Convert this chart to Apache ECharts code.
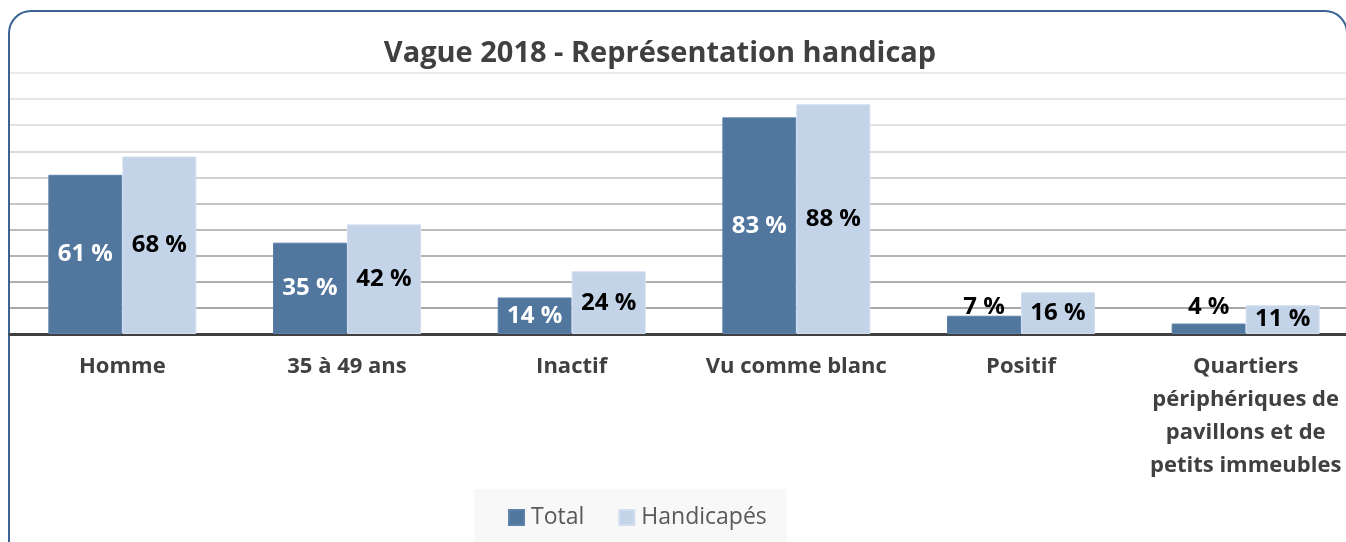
<!DOCTYPE html>
<html>
<head>
<meta charset="utf-8">
<script src="https://cdn.jsdelivr.net/npm/echarts@6/dist/echarts.min.js"></script>
<style>
  html, body { margin: 0; padding: 0; background: #fff; overflow: hidden; }
  #chart { width: 1362px; height: 542px; }
</style>
</head>
<body>
<div id="chart"></div>
<script>
const categories = ['Homme', '35 à 49 ans', 'Inactif', 'Vu comme blanc', 'Positif', 'Quartiers\npériphériques de\npavillons et de\npetits immeubles']
const totalValues = [61, 35, 14, 83, 7, 4]
const handicapesValues = [68, 42, 24, 88, 16, 11]

const TOTAL_COLOR = '#52779f'
const HANDI_COLOR = '#c3d4e9'
const FONT = '"Open Sans", "Noto Sans", sans-serif'

// small bars: Excel pushed the label above the bar
function labelFor(v) {
    if (v >= 10) return undefined
    return { position: 'top', color: '#000', distance: v < 5 ? 4 : -3 }
}

const chart = echarts.init(document.getElementById('chart'), null, { renderer: 'canvas' })
chart.setOption({
    animation: false,
    backgroundColor: '#fff',
    textStyle: { fontFamily: FONT },
    graphic: [
        {
            type: 'rect',
            z: -1,
            shape: { x: 9, y: 11, width: 1338, height: 580, r: 22 },
            style: { fill: 'none', stroke: '#3b6495', lineWidth: 2 }
        }
    ],
    title: {
        text: 'Vague 2018 - Représentation handicap',
        left: 655,
        textAlign: 'center',
        top: 34,
        textStyle: { fontFamily: FONT, fontSize: 29, fontWeight: 'bold', color: '#404040' }
    },
    legend: {
        data: ['Total', 'Handicapés'],
        left: 474,
        top: 489,
        padding: [17, 20, 20, 34],
        backgroundColor: '#f8f8f8',
        itemWidth: 15,
        itemHeight: 15,
        itemGap: 34,
        icon: 'rect',
        textStyle: { fontFamily: FONT, fontSize: 23, color: '#595959', padding: [0, 0, 0, 2] }
    },
    grid: { left: 10, top: 73, width: 1348, height: 261 },
    xAxis: {
        type: 'category',
        data: categories,
        axisLine: { show: true, lineStyle: { color: '#404040', width: 3 } },
        axisTick: { show: false },
        axisLabel: {
            interval: 0,
            margin: 16,
            fontFamily: FONT,
            fontSize: 22,
            fontWeight: 'bold',
            color: '#404040',
            lineHeight: 33
        }
    },
    yAxis: {
        type: 'value',
        min: 0,
        max: 100,
        interval: 10,
        axisLabel: { show: false },
        axisLine: { show: false },
        axisTick: { show: false },
        splitLine: {
            lineStyle: {
                width: 2,
                color: ['#a6a6a6', '#a8a8a8', '#afafaf', '#b5b5b5', '#bcbcbc', '#c6c6c6', '#d2d2d2', '#dcdcdc', '#e2e2e2', '#e6e6e6', '#eaeaea']
            }
        }
    },
    series: [
        {
            name: 'Total',
            type: 'bar',
            barWidth: 74,
            barGap: '0%',
            itemStyle: { color: TOTAL_COLOR, borderColor: '#5d82aa', borderWidth: 1 },
            label: {
                show: true,
                position: 'inside',
                formatter: '{c} %',
                fontFamily: FONT,
                fontSize: 24,
                fontWeight: 'bold',
                color: '#fff'
            },
            data: totalValues.map(v => ({ value: v, label: labelFor(v) }))
        },
        {
            name: 'Handicapés',
            type: 'bar',
            barWidth: 74,
            itemStyle: { color: HANDI_COLOR, borderColor: '#d2deee', borderWidth: 1 },
            label: {
                show: true,
                position: 'inside',
                formatter: '{c} %',
                fontFamily: FONT,
                fontSize: 24,
                fontWeight: 'bold',
                color: '#000'
            },
            data: handicapesValues
        }
    ]
})
</script>
</body>
</html>
